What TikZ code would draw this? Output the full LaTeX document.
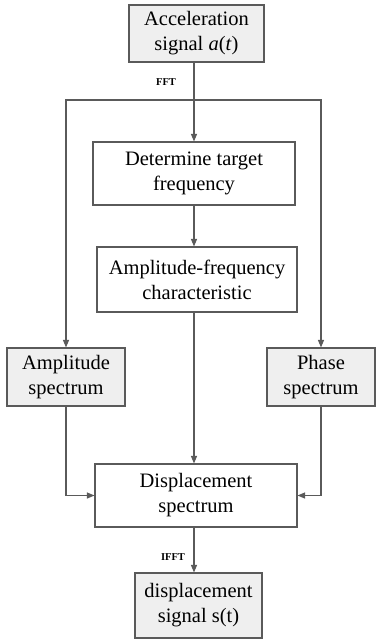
\documentclass[tikz,border=0pt]{standalone}
\usepackage{fontspec}
\setmainfont{Liberation Serif}
\newfontfamily\tnr{Liberation Serif}
\usetikzlibrary{arrows.meta,shadows}
\definecolor{ln}{HTML}{5A5A5A}
\definecolor{gbox}{HTML}{EFEFEF}
\begin{document}
\begin{tikzpicture}[x=1pt,y=-1pt,
  box/.style={draw=ln,line width=1.1pt,inner sep=0pt,align=center,
    font=\tnr\fontsize{20.5}{25}\selectfont,
    drop shadow={shadow xshift=1.2pt,shadow yshift=-1.2pt,fill=black!25,opacity=0.6}},
  wbox/.style={box,fill=white},
  gboxs/.style={box,fill=gbox},
  arr/.style={draw=ln,line width=1.1pt,-{Triangle[length=7.5pt,width=6pt]}},
  ln/.style={draw=ln,line width=1.1pt},
  lab/.style={font=\tnr\fontsize{10.5}{12}\selectfont\bfseries}]
\useasboundingbox (0,0) rectangle (376,641);
\node[gboxs,minimum width=135pt,minimum height=57pt] (acc) at (196.5,33.5) {Acceleration\\signal \textit{a}(\textit{t})};
\node[wbox,minimum width=202pt,minimum height=63pt] (det) at (194,173.5) {Determine target\\frequency};
\node[wbox,minimum width=200pt,minimum height=65pt] (afc) at (197,279.5) {Amplitude-frequency\\characteristic};
\node[gboxs,minimum width=118pt,minimum height=58pt] (amp) at (66,377) {Amplitude\\spectrum};
\node[gboxs,minimum width=108pt,minimum height=58pt] (pha) at (321,377) {Phase\\spectrum};
\node[wbox,minimum width=202pt,minimum height=63pt] (dsp) at (196,495.5) {Displacement\\spectrum};
\node[gboxs,minimum width=127pt,minimum height=65pt] (sig) at (198.5,605.5) {displacement\\signal s(t)};
\coordinate (colx) at (194,0);
\coordinate (split) at (194,100);
\draw[ln] (acc.south -| colx) -- (split);
\draw[arr] (split) -- (det.north -| colx);
\draw[arr] (split) -| (amp.north);
\draw[arr] (split) -| (pha.north);
\draw[arr] (det.south -| colx) -- (afc.north -| colx);
\draw[arr] (afc.south -| colx) -- (dsp.north -| colx);
\draw[arr] (amp.south) |- (dsp.west);
\draw[arr] (pha.south) |- (dsp.east);
\draw[arr] (dsp.south -| colx) -- (sig.north -| colx);
\node[lab] (fft) at (166,82) {FFT};
\node[lab] (ifft) at (173,557) {IFFT};
\end{tikzpicture}
\end{document}
